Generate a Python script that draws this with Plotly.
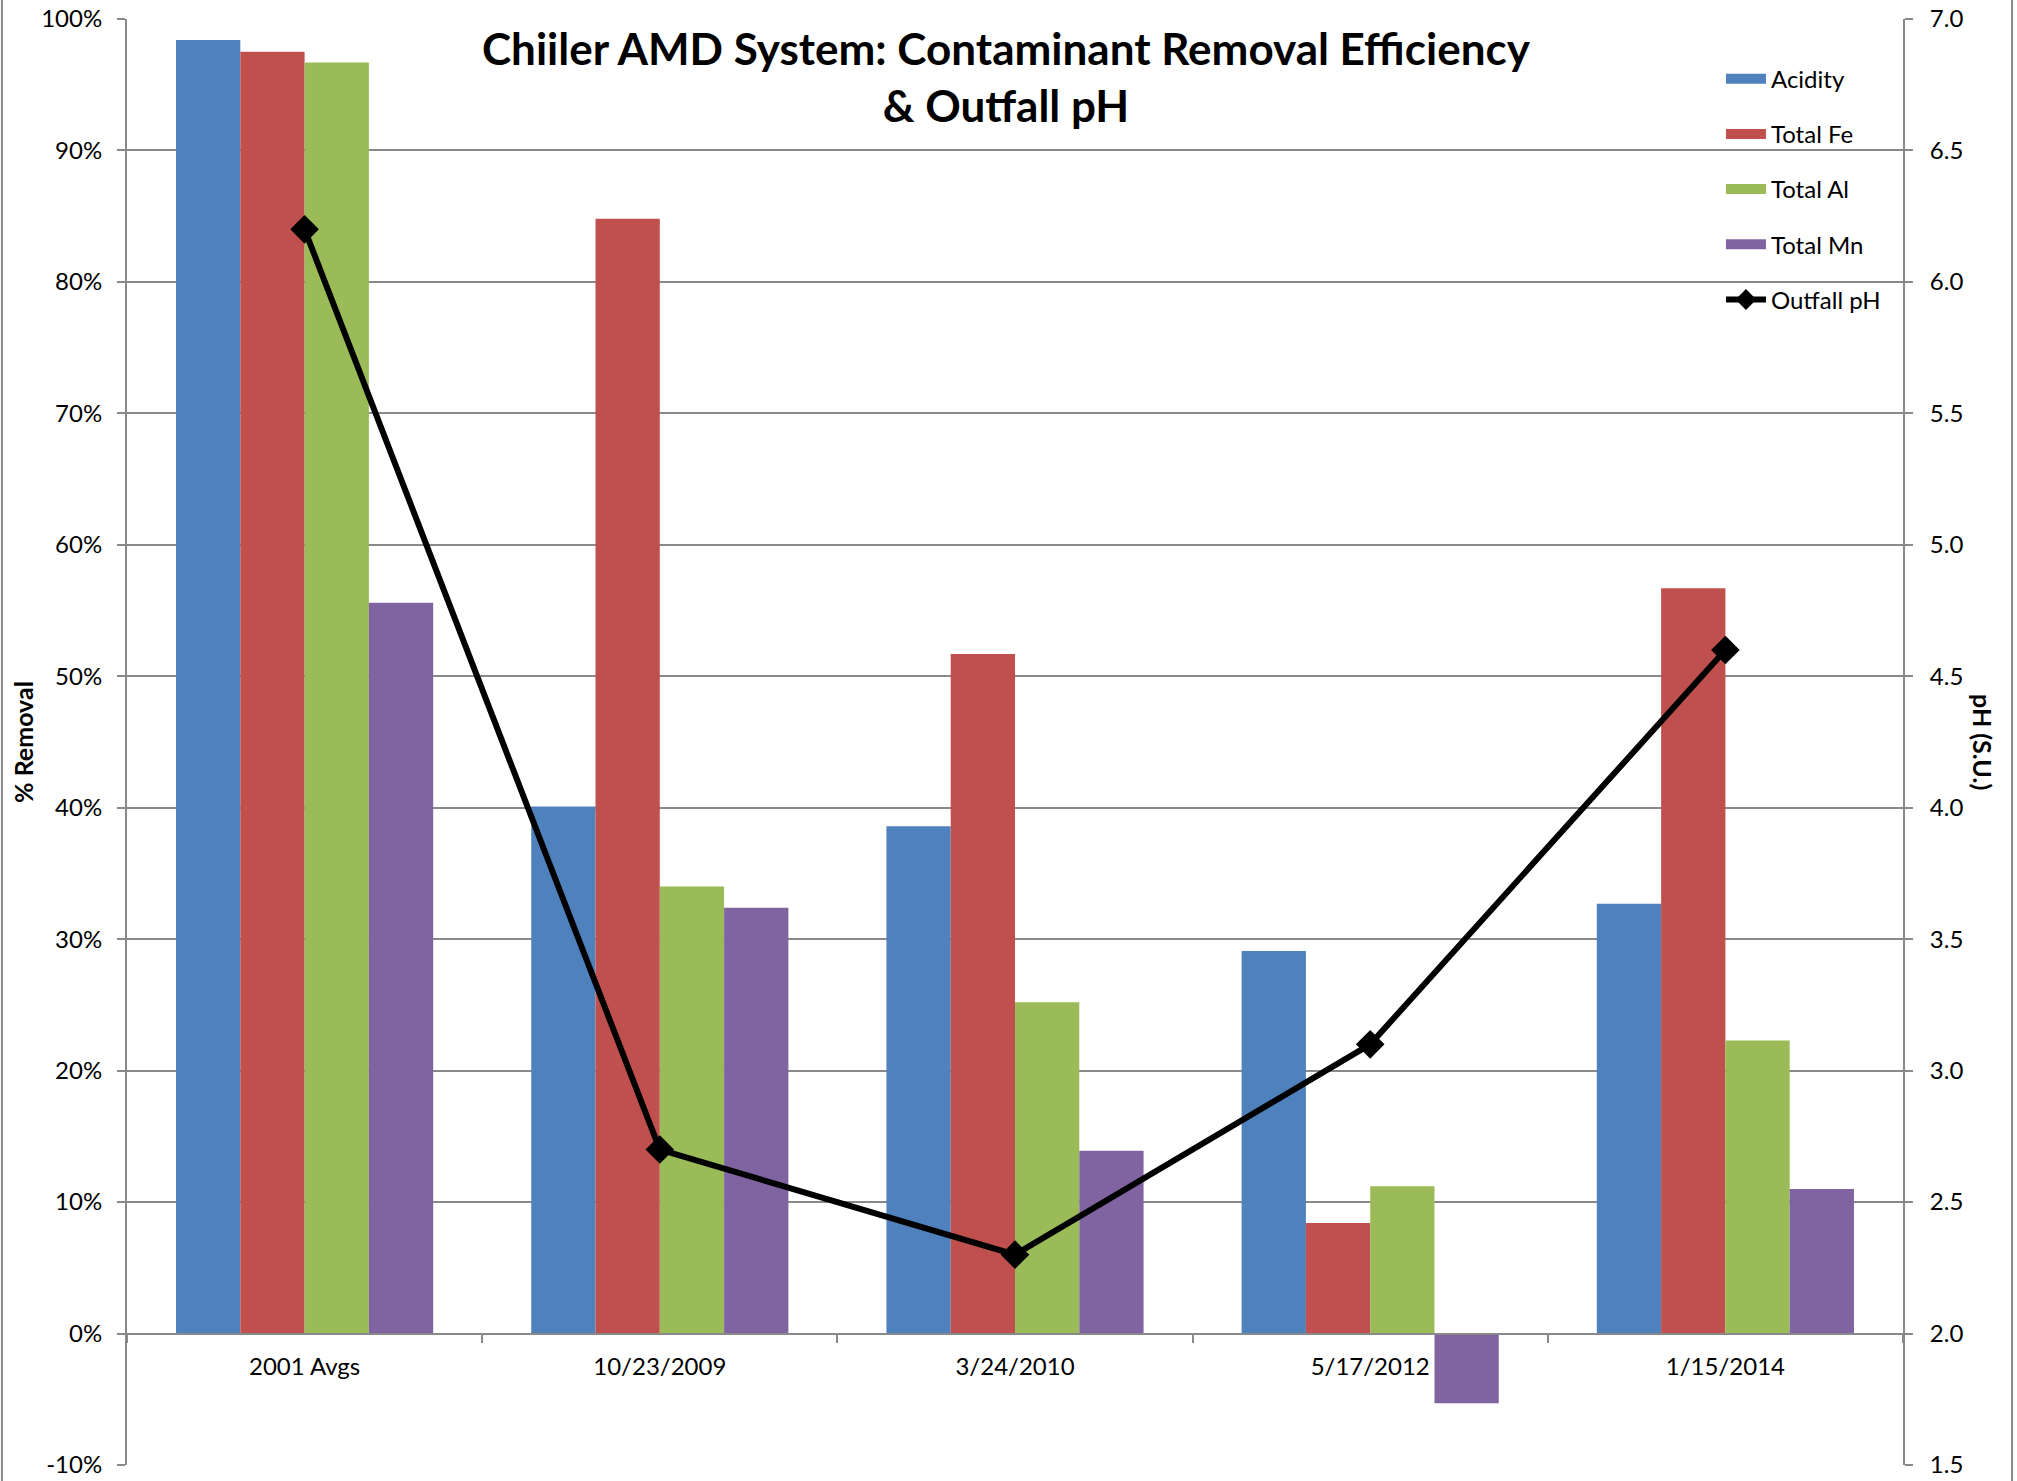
import plotly.graph_objects as go

categories = ["2001 Avgs", "10/23/2009", "3/24/2010", "5/17/2012", "1/15/2014"]
acidity = [0.984, 0.401, 0.386, 0.291, 0.327]
total_fe = [0.975, 0.848, 0.517, 0.084, 0.567]
total_al = [0.967, 0.340, 0.252, 0.112, 0.223]
total_mn = [0.556, 0.324, 0.139, -0.053, 0.110]
outfall_ph = [6.2, 2.7, 2.3, 3.1, 4.6]

pct_tickvals = [-0.1, 0.0, 0.1, 0.2, 0.3, 0.4, 0.5, 0.6, 0.7, 0.8, 0.9, 1.0]
pct_ticktext = ["-10%", "0%", "10%", "20%", "30%", "40%", "50%", "60%", "70%", "80%", "90%", "100%"]

colors = ["#4F81BD", "#C0504D", "#9BBB59", "#8064A2"]
names = ["Acidity", "Total Fe", "Total Al", "Total Mn"]
series = [acidity, total_fe, total_al, total_mn]

FONT = "Lato, Carlito, Calibri, sans-serif"
GRID = "#898989"

fig = go.Figure()
for i, (nm, vals) in enumerate(zip(names, series)):
    fig.add_trace(go.Bar(
        x=categories, y=vals, name=nm, marker=dict(color=colors[i], line=dict(width=0)),
        showlegend=False, yaxis="y",
    ))
    # legend entry drawn as a wide colour swatch
    fig.add_trace(go.Scatter(
        x=[None], y=[None], name=nm, mode="lines",
        line=dict(color=colors[i], width=14), legendgroup=nm, showlegend=True, yaxis="y",
    ))
fig.add_trace(go.Scatter(
    x=categories, y=outfall_ph, name="Outfall pH", mode="lines+markers",
    line=dict(color="black", width=6), marker=dict(symbol="diamond", size=22, color="black"),
    legendgroup="ph", yaxis="y2",
))

fig.update_layout(
    width=2017, height=1481,
    margin=dict(l=127, r=114, t=19, b=16, autoexpand=False),
    paper_bgcolor="white", plot_bgcolor="white",
    font=dict(family=FONT, size=24, color="black"),
    barmode="group", bargap=0.276, bargroupgap=0,
    showlegend=True,
    legend=dict(x=0.8975, y=0.974, xanchor="left", yanchor="top",
                font=dict(size=24), tracegroupgap=21, bgcolor="rgba(0,0,0,0)",
                itemwidth=40),
    xaxis=dict(
        type="category", anchor="free", position=0.1 / 1.1,
        showline=True, linecolor=GRID, linewidth=2,
        ticks="outside", tickson="boundaries", ticklen=8, tickcolor=GRID, tickwidth=2,
        showgrid=False, tickfont=dict(size=24), ticklabelstandoff=12,
    ),
    yaxis=dict(
        range=[-0.1, 1.0], tickvals=pct_tickvals, ticktext=pct_ticktext,
        showline=True, linecolor=GRID, linewidth=2,
        ticks="outside", ticklen=8, tickcolor=GRID, tickwidth=2,
        showgrid=True, gridcolor=GRID, gridwidth=1.5,
        zeroline=True, zerolinecolor=GRID, zerolinewidth=2,
        tickfont=dict(size=24), ticklabelstandoff=10,
    ),
    yaxis2=dict(
        range=[1.5, 7.0], dtick=0.5, tick0=1.5, tickformat=".1f",
        overlaying="y", side="right", anchor="x",
        showline=True, linecolor=GRID, linewidth=2,
        ticks="outside", ticklen=8, tickcolor=GRID, tickwidth=2,
        showgrid=False, zeroline=False,
        tickfont=dict(size=24), ticklabelstandoff=12,
    ),
    annotations=[
        dict(text="<b>Chiiler AMD System: Contaminant Removal Efficiency<br>& Outfall pH</b>",
             xref="paper", yref="paper", x=0.495, y=0.96, showarrow=False,
             xanchor="center", yanchor="middle", font=dict(size=44, family=FONT)),
        dict(text="<b>% Removal</b>", xref="paper", yref="paper", x=-0.0586, y=0.5,
             textangle=-90, showarrow=False, font=dict(size=25, family=FONT),
             xanchor="center", yanchor="middle"),
        dict(text="<b>pH (S.U.)</b>", xref="paper", yref="paper", x=1.045, y=0.5,
             textangle=90, showarrow=False, font=dict(size=25, family=FONT),
             xanchor="center", yanchor="middle"),
    ],
    shapes=[
        dict(type="line", xref="paper", yref="paper", x0=-0.0704, x1=-0.0704, y0=-0.05, y1=1.05,
             line=dict(color=GRID, width=2)),
        dict(type="line", xref="paper", yref="paper", x0=1.0614, x1=1.0614, y0=-0.05, y1=1.05,
             line=dict(color=GRID, width=2)),
    ],
)

fig.write_html("out.html")
